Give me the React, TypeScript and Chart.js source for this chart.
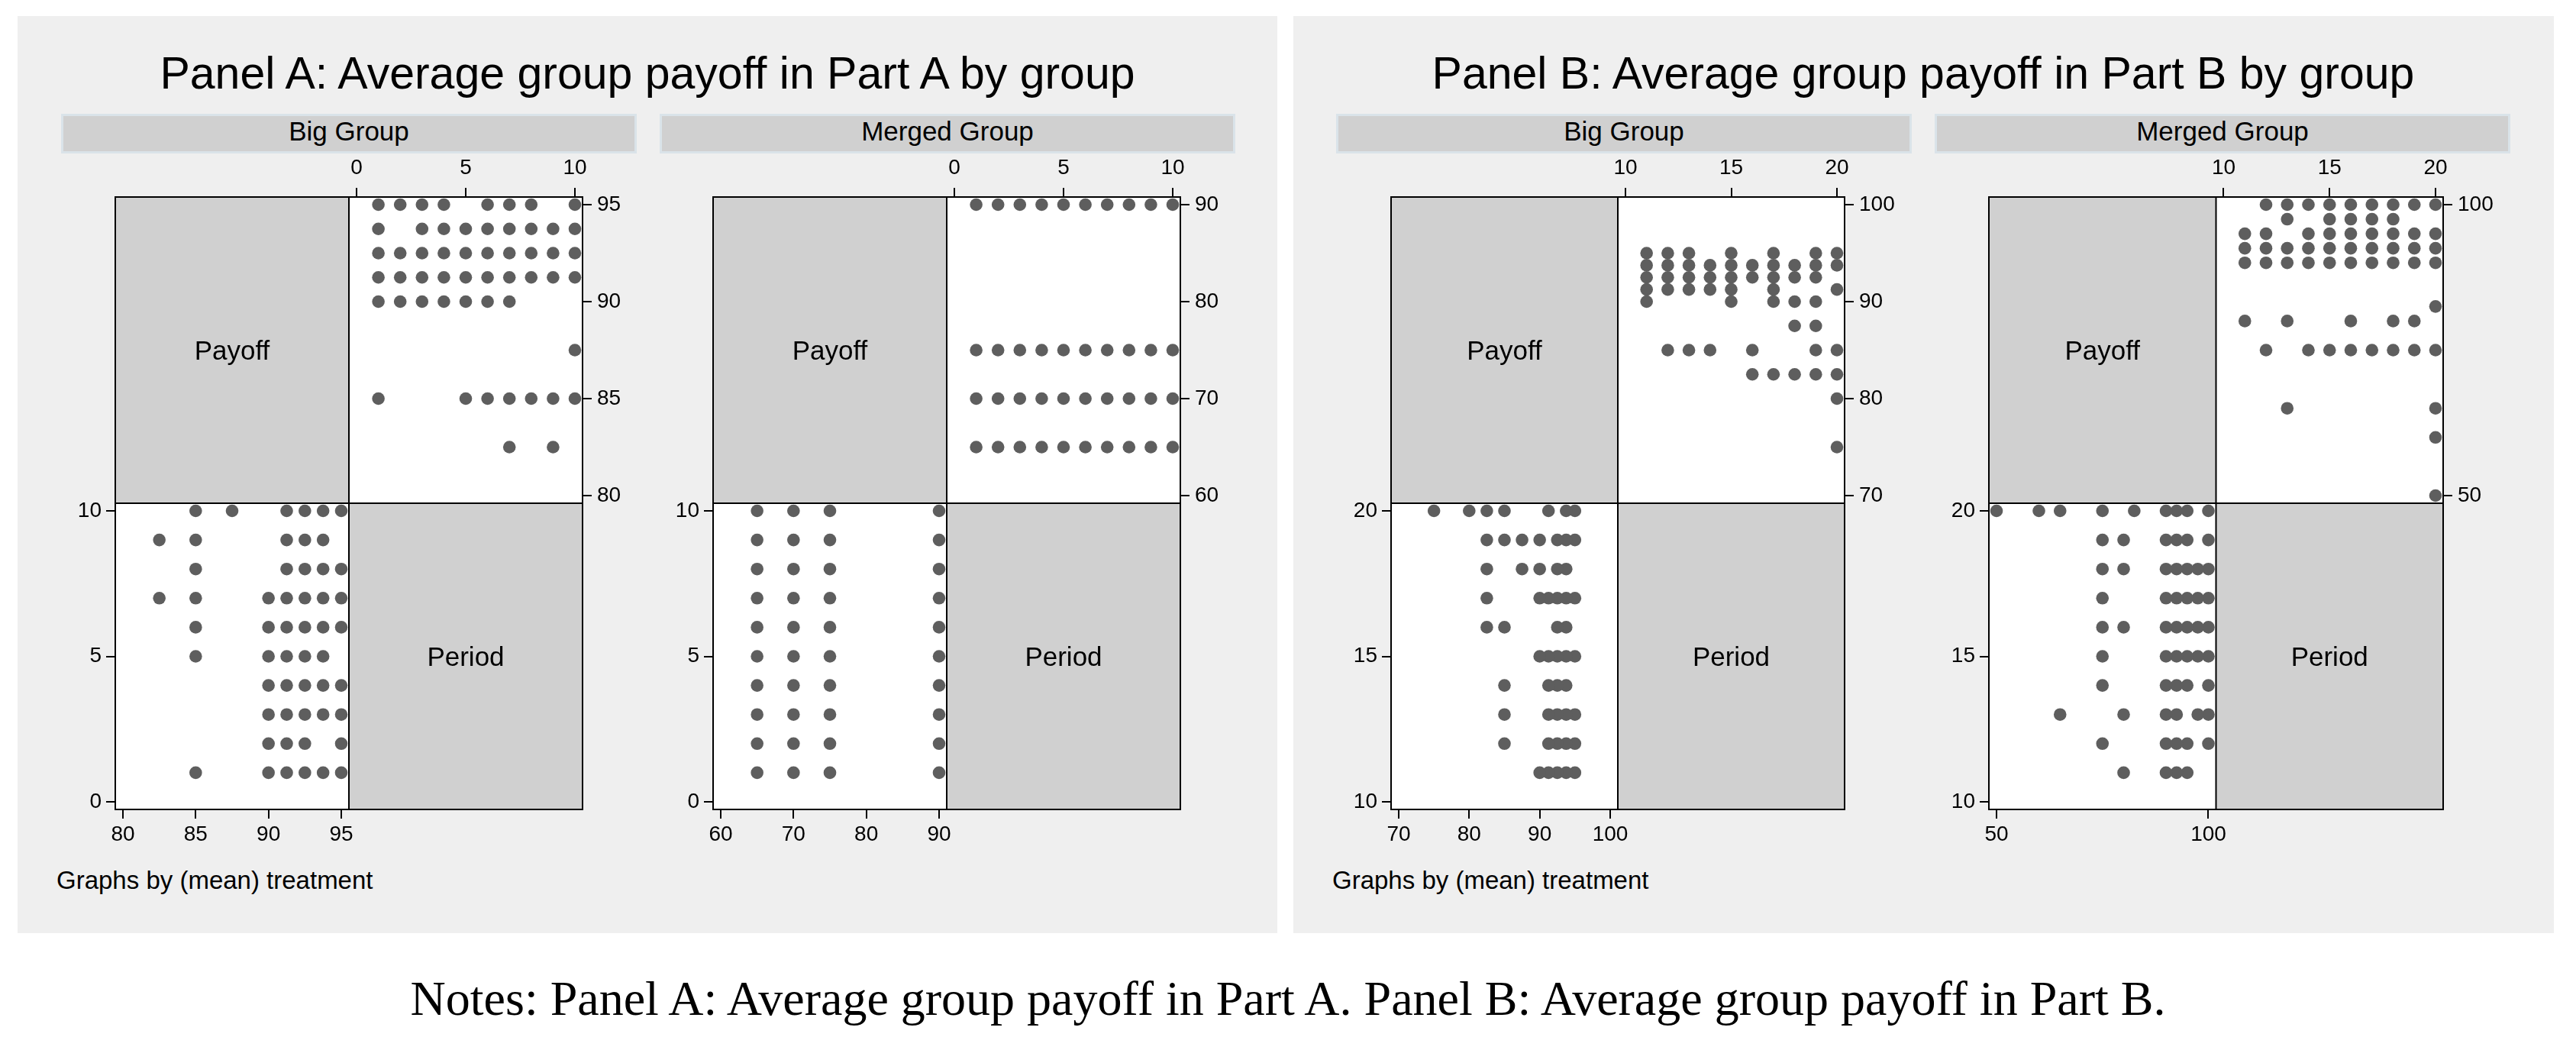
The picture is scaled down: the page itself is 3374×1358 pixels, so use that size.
import { useEffect, useRef } from "react";
import { Chart, registerables } from "chart.js";
Chart.register(...registerables);

// periods shown in each part
const periodsA = [1, 2, 3, 4, 5, 6, 7, 8, 9, 10];
const periodsB = [11, 12, 13, 14, 15, 16, 17, 18, 19, 20];

// average group payoffs observed in each period (one list per period)
const bigGroupA = [
  [95, 93.75, 92.5, 91.25, 90, 85],
  [95, 92.5, 91.25, 90],
  [95, 93.75, 92.5, 91.25, 90],
  [95, 93.75, 92.5, 91.25, 90],
  [93.75, 92.5, 91.25, 90, 85],
  [95, 93.75, 92.5, 91.25, 90, 85],
  [95, 93.75, 92.5, 91.25, 90, 85, 82.5],
  [95, 93.75, 92.5, 91.25, 85],
  [93.75, 92.5, 91.25, 85, 82.5],
  [95, 93.75, 92.5, 91.25, 87.5, 85],
];
const mergedGroupA = [
  [90, 75, 70, 65],
  [90, 75, 70, 65],
  [90, 75, 70, 65],
  [90, 75, 70, 65],
  [90, 75, 70, 65],
  [90, 75, 70, 65],
  [90, 75, 70, 65],
  [90, 75, 70, 65],
  [90, 75, 70, 65],
  [90, 75, 70, 65],
];
const bigGroupB = [
  [95, 93.75, 92.5, 91.25, 90],
  [95, 93.75, 92.5, 91.25, 85],
  [95, 93.75, 92.5, 91.25, 85],
  [93.75, 92.5, 91.25, 85],
  [95, 93.75, 92.5, 91.25, 90],
  [93.75, 92.5, 85, 82.5],
  [95, 93.75, 92.5, 91.25, 90, 82.5],
  [93.75, 92.5, 90, 87.5, 82.5],
  [95, 93.75, 92.5, 90, 87.5, 85, 82.5],
  [95, 93.75, 91.25, 85, 82.5, 80, 75],
];
const mergedGroupB = [
  [95, 92.5, 90, 80],
  [100, 95, 92.5, 90, 75],
  [100, 97.5, 92.5, 90, 80, 65],
  [100, 95, 92.5, 90, 75],
  [100, 97.5, 95, 92.5, 90, 75],
  [100, 97.5, 95, 92.5, 90, 80, 75],
  [100, 97.5, 95, 92.5, 90, 75],
  [100, 97.5, 95, 92.5, 90, 80, 75],
  [100, 95, 92.5, 90, 80, 75],
  [100, 95, 92.5, 90, 82.5, 75, 65, 60, 50],
];

// tick labels
const periodTicksA = [0, 5, 10];
const periodTicksB = [10, 15, 20];
const payoffTicksBigA = [80, 85, 90, 95];
const payoffTicksMergedA = [60, 70, 80, 90];
const payoffTicksBigB = [70, 80, 90, 100];
const payoffTicksMergedB = [50, 100];

const SANS = "'Liberation Sans', Arial, Helvetica, sans-serif";
const SERIF = "'Liberation Serif', 'Times New Roman', serif";
const PANEL_BG = "#efefef";
const CELL_GRAY = "#d0d0d0";
const DOT = "#5e5e5e";

const TOP = 258, BOTTOM = 1060; // matrix rows
const PAD = 10; // inner margin of a cell
const M = { l: 90, r: 110, t: 60, b: 60 };

const cellsPlugin = {
  id: "cells",
  beforeDatasetsDraw(chart: any) {
    const { ctx, chartArea: a } = chart;
    const mx = (a.left + a.right) / 2, my = (a.top + a.bottom) / 2;
    ctx.save();
    ctx.fillStyle = "#fff";
    ctx.fillRect(mx, a.top, a.right - mx, my - a.top);
    ctx.fillRect(a.left, my, mx - a.left, a.bottom - my);
    ctx.fillStyle = CELL_GRAY;
    ctx.fillRect(a.left, a.top, mx - a.left, my - a.top);
    ctx.fillRect(mx, my, a.right - mx, a.bottom - my);
    ctx.restore();
  },
  afterDatasetsDraw(chart: any) {
    const { ctx, chartArea: a } = chart;
    const mx = (a.left + a.right) / 2, my = (a.top + a.bottom) / 2;
    ctx.save();
    ctx.strokeStyle = "#000";
    ctx.lineWidth = 2;
    ctx.strokeRect(a.left, a.top, a.right - a.left, a.bottom - a.top);
    ctx.beginPath();
    ctx.moveTo(mx, a.top); ctx.lineTo(mx, a.bottom);
    ctx.moveTo(a.left, my); ctx.lineTo(a.right, my);
    ctx.stroke();
    ctx.restore();
  },
};

function axis(position: string, min: number, max: number, ticks: number[], size: number, padding: number) {
  const horizontal = position === "top" || position === "bottom";
  return {
    type: "linear",
    position,
    min,
    max,
    afterBuildTicks: (s: any) => { s.ticks = ticks.map((v) => ({ value: v })); },
    afterFit: (s: any) => { if (horizontal) s.height = size; else s.width = size; },
    grid: { drawOnChartArea: false, drawTicks: true, tickLength: 12, color: "#000", lineWidth: 2 },
    border: { display: false },
    ticks: { font: { family: SANS, size: 28 }, color: "#000", padding, maxRotation: 0, autoSkip: false },
  };
}

function MatrixPlot({ x0, x1, periods, payoffs, periodTicks, payoffTicks }: {
  x0: number; x1: number; periods: number[]; payoffs: number[][]; periodTicks: number[]; payoffTicks: number[];
}) {
  const ref = useRef<HTMLCanvasElement>(null);
  const W = x1 - x0 + M.l + M.r, H = BOTTOM - TOP + M.t + M.b;
  useEffect(() => {
    if (!ref.current) return;
    const cw = (x1 - x0) / 2, ch = (BOTTOM - TOP) / 2;
    const pLo = periodTicks[0], pHi = periodTicks[periodTicks.length - 1];
    const qLo = payoffTicks[0], qHi = payoffTicks[payoffTicks.length - 1];
    const ux = (pHi - pLo) / (cw - 2 * PAD), uy = (qHi - qLo) / (ch - 2 * PAD);
    const lx = (qHi - qLo) / (cw - 2 * PAD), ly = (pHi - pLo) / (ch - 2 * PAD);
    const upper: { x: number; y: number }[] = [];
    const lower: { x: number; y: number }[] = [];
    periods.forEach((p, i) => payoffs[i].forEach((v) => {
      upper.push({ x: p, y: v });
      lower.push({ x: v, y: p });
    }));
    const dot = { pointRadius: 8.3, pointBackgroundColor: DOT, pointBorderWidth: 0, showLine: false };
    const chart = new Chart(ref.current, {
      type: "scatter",
      data: {
        datasets: [
          { data: upper, xAxisID: "xTop", yAxisID: "yRight", ...dot },
          { data: lower, xAxisID: "xBot", yAxisID: "yLeft", ...dot },
        ],
      },
      options: {
        animation: false,
        responsive: false,
        devicePixelRatio: 1,
        events: [],
        layout: { padding: 0 },
        plugins: { legend: { display: false }, tooltip: { enabled: false } },
        scales: {
          xTop: axis("top", pLo - (cw + PAD) * ux, pHi + PAD * ux, periodTicks, M.t, 9),
          yRight: axis("right", qLo - (ch + PAD) * uy, qHi + PAD * uy, payoffTicks, M.r, 7),
          xBot: axis("bottom", qLo - PAD * lx, qHi + (cw + PAD) * lx, payoffTicks, M.b, 4),
          yLeft: axis("left", pLo - PAD * ly, pHi + (ch + PAD) * ly, periodTicks, M.l, 6),
        } as any,
      },
      plugins: [cellsPlugin],
    } as any);
    return () => chart.destroy();
  }, [x0, x1, periods, payoffs, periodTicks, payoffTicks]);
  const cw = (x1 - x0) / 2, ch = (BOTTOM - TOP) / 2;
  const cellLabel = (left: number, top: number, text: string) => (
    <div style={{
      position: "absolute", left, top, width: cw, height: ch, display: "flex",
      alignItems: "center", justifyContent: "center", font: `35px ${SANS}`, lineHeight: 1, color: "#000",
    }}>{text}</div>
  );
  return (
    <>
      <canvas ref={ref} width={W} height={H}
        style={{ position: "absolute", left: x0 - M.l, top: TOP - M.t, width: W, height: H }} />
      {cellLabel(x0, TOP, "Payoff")}
      {cellLabel(x0 + cw, TOP + ch, "Period")}
    </>
  );
}

function Text({ cx, left, baseline, size, text, serif }: {
  cx?: number; left?: number; baseline: number; size: number; text: string; serif?: boolean;
}) {
  const top = baseline - (serif ? 0.8375 : 0.8465) * size;
  const base = {
    position: "absolute" as const, top, lineHeight: 1, whiteSpace: "nowrap" as const, color: "#000",
    font: `${size}px ${serif ? SERIF : SANS}`,
  };
  if (cx !== undefined)
    return <div style={{ ...base, left: cx - 1500, width: 3000, textAlign: "center", lineHeight: 1 }}>{text}</div>;
  return <div style={{ ...base, left, lineHeight: 1 }}>{text}</div>;
}

function Strip({ left, text }: { left: number; text: string }) {
  return (
    <>
      <div style={{
        position: "absolute", left, top: 149, width: 754, height: 52, background: CELL_GRAY,
        border: "3px solid #dae3e9", boxSizing: "border-box",
      }} />
      <Text cx={left + 377} baseline={182} size={35} text={text} />
    </>
  );
}

export default function App() {
  return (
    <div style={{ position: "absolute", left: 0, top: 0, width: 3374, height: 1358, background: "#fff", overflow: "hidden" }}>
      <div style={{ position: "absolute", left: 23, top: 21, width: 1650, height: 1201, background: PANEL_BG }} />
      <div style={{ position: "absolute", left: 1694, top: 21, width: 1651, height: 1201, background: PANEL_BG }} />

      <Text cx={848} baseline={112} size={59} text="Panel A: Average group payoff in Part A by group" />
      <Text cx={2519} baseline={112} size={59} text="Panel B: Average group payoff in Part B by group" />

      <Strip left={80} text="Big Group" />
      <Strip left={864} text="Merged Group" />
      <Strip left={1750} text="Big Group" />
      <Strip left={2534} text="Merged Group" />

      <MatrixPlot x0={151} x1={763} periods={periodsA} payoffs={bigGroupA}
        periodTicks={periodTicksA} payoffTicks={payoffTicksBigA} />
      <MatrixPlot x0={934} x1={1546} periods={periodsA} payoffs={mergedGroupA}
        periodTicks={periodTicksA} payoffTicks={payoffTicksMergedA} />
      <MatrixPlot x0={1822} x1={2416} periods={periodsB} payoffs={bigGroupB}
        periodTicks={periodTicksB} payoffTicks={payoffTicksBigB} />
      <MatrixPlot x0={2605} x1={3200} periods={periodsB} payoffs={mergedGroupB}
        periodTicks={periodTicksB} payoffTicks={payoffTicksMergedB} />

      <Text left={74} baseline={1162} size={33} text="Graphs by (mean) treatment" />
      <Text left={1745} baseline={1162} size={33} text="Graphs by (mean) treatment" />

      <Text cx={1687} baseline={1325} size={64} serif
        text="Notes: Panel A: Average group payoff in Part A. Panel B: Average group payoff in Part B." />
    </div>
  );
}
